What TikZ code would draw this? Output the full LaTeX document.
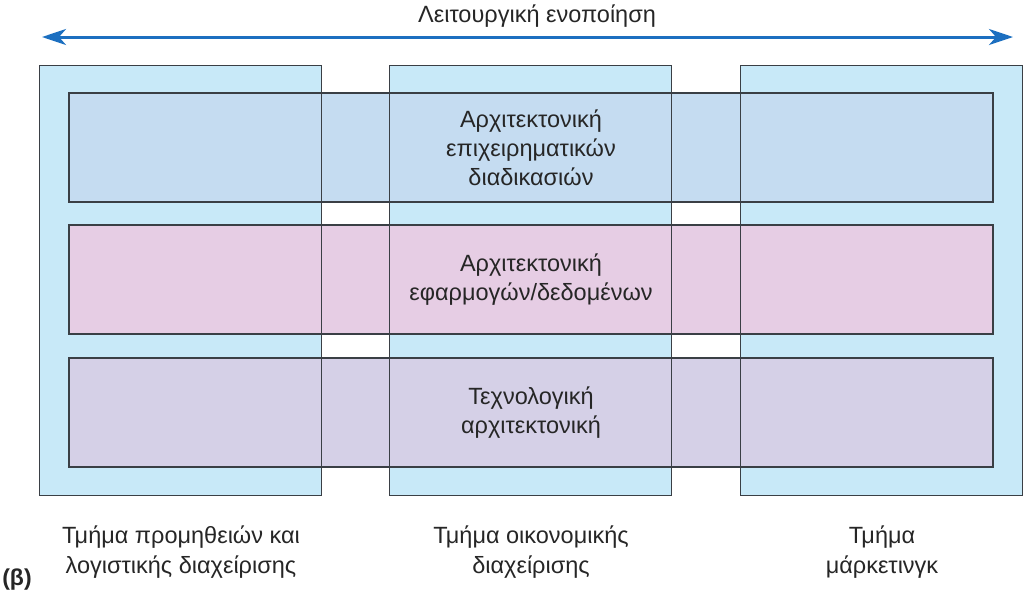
\documentclass[tikz,border=0pt]{standalone}
\usepackage{fontspec}
\setmainfont{Liberation Sans}
\usetikzlibrary{arrows.meta}
\definecolor{colfill}{HTML}{C8E9F8}
\definecolor{rowA}{HTML}{C5DCF1}
\definecolor{rowB}{HTML}{E6CDE4}
\definecolor{rowC}{HTML}{D5D0E7}
\definecolor{edge}{HTML}{3A3F45}
\definecolor{arrowblue}{HTML}{1C6FC0}
\tikzset{
  colbox/.style={rectangle, fill=colfill, inner sep=0pt, minimum width=281pt, minimum height=429pt},
  rowbox/.style={rectangle, draw=edge, line width=1.3pt, inner sep=0pt, minimum width=924pt, minimum height=109pt,
     font=\fontsize{23.5}{29}\selectfont, align=center, text=black!85},
  outline/.style={draw=edge, line width=1.3pt},
  lbl/.style={font=\fontsize{23.5}{30}\selectfont, align=center, text=black!85},
}
\begin{document}
\begin{tikzpicture}[x=1pt,y=-1pt]
\useasboundingbox (0,0) rectangle (1024,598);
% columns
\node[colbox] (c1) at (180.5,280.5) {};
\node[colbox] (c2) at (530.5,280.5) {};
\node[colbox] (c3) at (881.5,280.5) {};
% rows
\node[rowbox, fill=rowA] (r1) at (531,147.5) {Αρχιτεκτονική\\επιχειρηματικών\\διαδικασιών};
\node[rowbox, fill=rowB] (r2) at (531,279.5) {Αρχιτεκτονική\\εφαρμογών/δεδομένων};
\node[rowbox, fill=rowC] (r3) at (531,412.5) {Τεχνολογική\\αρχιτεκτονική};
% column outlines on top
\draw[outline] (c1.north west) rectangle (c1.south east);
\draw[outline] (c2.north west) rectangle (c2.south east);
\draw[outline] (c3.north west) rectangle (c3.south east);
% top arrow
\node[lbl] (title) at (537,16) {Λειτουργική ενοποίηση};
\coordinate (aL) at (42,37);
\coordinate (aR) at (1013,37);
\draw[arrowblue, line width=3pt, {Stealth[length=24pt,width=16pt,inset=7pt]}-{Stealth[length=24pt,width=16pt,inset=7pt]}] (aL) -- (aR);
% bottom labels
\node[lbl] (l1) at (181,552) {Τμήμα προμηθειών και\\λογιστικής διαχείρισης};
\node[lbl] (l2) at (531,552) {Τμήμα οικονομικής\\διαχείρισης};
\node[lbl] (l3) at (882,552) {Τμήμα\\μάρκετινγκ};
\node[font=\fontsize{23}{26}\bfseries\selectfont, text=black!85] (beta) at (17,580) {(β)};
\end{tikzpicture}
\end{document}
